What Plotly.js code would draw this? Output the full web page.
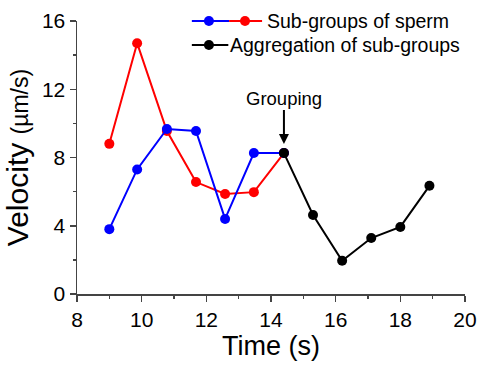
<!DOCTYPE html>
<html><head><meta charset="utf-8">
<script src="https://cdn.plot.ly/plotly-3.0.1.min.js"></script>
<style>html,body{margin:0;padding:0;background:#fff}#c{width:480px;height:369px}</style>
</head><body><div id="c"></div>
<script>
var subTime = [9.0, 9.86, 10.78, 11.68, 12.58, 13.47, 14.4];
var blueVel = [3.8, 7.3, 9.67, 9.55, 4.4, 8.26, 8.26];
var redVel  = [8.8, 14.7, 9.55, 6.56, 5.86, 5.97, 8.26];
var aggTime = [14.4, 15.3, 16.2, 17.1, 18.0, 18.9];
var aggVel  = [8.26, 4.63, 1.95, 3.28, 3.93, 6.34];
var xTicks = [8, 10, 12, 14, 16, 18, 20];
var yTicks = [0, 4, 8, 12, 16];

var F = '"Liberation Sans", Arial, sans-serif';
function tr(x, y, c) {
  return {x: x, y: y, type: 'scatter', mode: 'lines+markers', showlegend: false,
    line: {color: c, width: 2}, marker: {color: c, size: 10}, cliponaxis: false};
}
var data = [tr(subTime, redVel, '#ff0000'), tr(subTime, blueVel, '#0000ff'), tr(aggTime, aggVel, '#000000')];

function pline(x0, x1, y, c) {
  return {type: 'line', xref: 'paper', yref: 'paper', x0: x0, x1: x1, y0: y, y1: y, line: {color: c, width: 2}};
}
function pdot(x, y, c) {
  return {type: 'circle', xref: 'paper', yref: 'paper', xsizemode: 'pixel', ysizemode: 'pixel',
    xanchor: x, yanchor: y, x0: -5, x1: 5, y0: -5, y1: 5, fillcolor: c, line: {color: c, width: 0}};
}
var layout = {
  width: 480, height: 369,
  margin: {l: 77, r: 15, t: 21, b: 75},
  paper_bgcolor: '#fff', plot_bgcolor: '#fff',
  font: {family: F, color: '#000'},
  showlegend: false,
  xaxis: {range: [8, 20], tickvals: xTicks, ticktext: xTicks.map(String), ticks: 'outside', ticklen: 6, tickwidth: 1.5,
    tickcolor: '#444', showline: true, linecolor: '#444', linewidth: 1.5, showgrid: false, zeroline: false,
    tickfont: {size: 21, family: F}, minor: {dtick: 1, ticks: 'outside', ticklen: 3, tickcolor: '#444', tickwidth: 1.5, showgrid: false},
    title: {text: 'Time (s)', font: {size: 27, family: F}, standoff: 6}},
  yaxis: {range: [0, 16], tickvals: yTicks, ticktext: yTicks.map(String), ticks: 'outside', ticklen: 6, tickwidth: 1.5,
    tickcolor: '#444', showline: true, linecolor: '#444', linewidth: 1.5, showgrid: false, zeroline: false,
    tickfont: {size: 21, family: F}, minor: {dtick: 2, ticks: 'outside', ticklen: 3, tickcolor: '#444', tickwidth: 1.5, showgrid: false},
    title: {text: 'Velocity <span style="font-size:23px">(µm/s)</span>', font: {size: 30, family: F}, standoff: 4}},
  shapes: [
    pline(0.296, 0.392, 1.0, '#0000ff'), pline(0.392, 0.477, 1.0, '#ff0000'),
    pdot(0.340, 1.0, '#0000ff'), pdot(0.433, 1.0, '#ff0000'),
    pline(0.296, 0.390, 0.912, '#000000'), pdot(0.340, 0.912, '#000000')
  ],
  annotations: [
    {xref: 'paper', yref: 'paper', x: 0.485, y: 1.0, xanchor: 'left', yanchor: 'middle', showarrow: false,
      text: 'Sub-groups of sperm', font: {size: 19.5, family: F}},
    {xref: 'paper', yref: 'paper', x: 0.390, y: 0.912, xanchor: 'left', yanchor: 'middle', showarrow: false,
      text: 'Aggregation of sub-groups', font: {size: 19.5, family: F}},
    {x: 14.4, y: 8.26, xref: 'x', yref: 'y', text: 'Grouping', font: {size: 18.5, family: F},
      showarrow: true, ax: 0, ay: -55, arrowhead: 2, arrowsize: 1, arrowwidth: 2, arrowcolor: '#000', standoff: 9}
  ]
};
Plotly.newPlot('c', data, layout, {displayModeBar: false, staticPlot: true});
</script></body></html>
